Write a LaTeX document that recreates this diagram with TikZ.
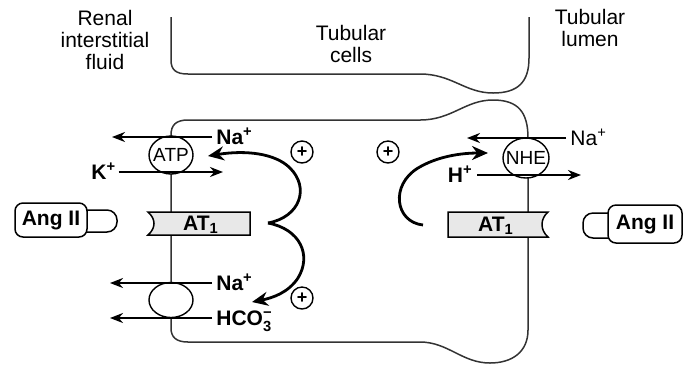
\documentclass[tikz,border=0pt]{standalone}
\usepackage{amsmath}
\usepackage{fontspec}
\setmainfont{Liberation Sans}
\usetikzlibrary{arrows.meta,positioning,shapes.geometric}

\begin{document}
\begin{tikzpicture}[x=0.5pt,y=-0.5pt,>={Stealth[length=6.5pt,width=5pt]},
 lbl/.style={align=center,font=\fontsize{10.5}{11}\selectfont},
 ion/.style={font=\fontsize{10.5}{11}\selectfont\bfseries,inner sep=2pt,text height=7.5pt,text depth=0pt},
 pump/.style={draw,ellipse,fill=white,line width=0.7pt,inner sep=0pt,minimum width=22pt,minimum height=19pt,font=\fontsize{9.5}{10}\selectfont},
 flux/.style={->,line width=1.2pt},
 effect/.style={-{Stealth[length=8pt,width=7pt]},line width=1.4pt},
 plus/.style={draw,circle,line width=0.7pt,inner sep=0pt,minimum size=11pt,font=\fontsize{9}{9}\selectfont\bfseries},
 wall/.style={line width=0.75pt,draw=black!80},
 recep/.style={draw,line width=0.75pt,fill=gray!18},
 ligand/.style={draw,line width=0.75pt,rounded corners=4pt,font=\fontsize{10.5}{11}\selectfont\bfseries}]
\useasboundingbox (0,0) rectangle (684,366);
\node[lbl] (fluid) at (105,40) {Renal\\interstitial\\fluid};
\node[lbl] (cells) at (351,44) {Tubular\\cells};
\node[lbl] (lumen) at (590,28) {Tubular\\lumen};
\draw[wall] (171,17) -- (171,60) .. controls (171,70) and (176,74) .. (188,74) -- (420,74)
 .. controls (452,74) and (465,93) .. (493,93) .. controls (518,93) and (529,82) .. (529,58) -- (529,17);
\draw[wall] (171,135) .. controls (171,125) and (176,120) .. (188,120) -- (420,120)
 .. controls (452,120) and (465,100) .. (493,100) .. controls (518,100) and (528,112) .. (528,138)
 -- (528,330) .. controls (528,352) and (512,363) .. (490,363) .. controls (462,363) and (448,342) .. (420,342)
 -- (188,342) .. controls (176,342) and (171,337) .. (171,328) -- cycle;
\node[pump] (atp) at (171,155) {\makebox[0pt]{ATP}};
\node[pump,minimum height=17.5pt] (nbc) at (171,300) {};
\node[pump,minimum width=23pt,minimum height=20pt] (nhe) at (526,158) {\makebox[0pt]{NHE}};
\node[ion,anchor=west] (naA) at (212,137) {Na\textsuperscript{+}};
\coordinate (naAend) at (112,137);
\draw[flux] (naA.west) -- (naAend);
\node[ion,anchor=west,inner sep=1pt] (kA) at (89,172) {K\textsuperscript{+}};
\coordinate (kAend) at (223,172);
\draw[flux] (kA.east) -- (kAend);
\node[ion,anchor=west] (naB) at (212,283) {Na\textsuperscript{+}};
\coordinate (naBend) at (110,283);
\draw[flux] (naB.west) -- (naBend);
\node[ion,anchor=west] (hco) at (212,318) {HCO$_{\text{\bfseries 3}}^{\text{\bfseries −}}$};
\coordinate (hcoend) at (110,318);
\draw[flux] (hco.west) -- (hcoend);
\node[ion,anchor=west,font=\fontsize{10.5}{11}\selectfont] (naR) at (566,138) {Na\textsuperscript{+}};
\coordinate (naRend) at (467,138);
\draw[flux] (naR.west) -- (naRend);
\node[ion,anchor=east] (hR) at (477,175) {H\textsuperscript{+}};
\coordinate (hRend) at (581,175);
\draw[flux] (hR.east) -- (hRend);
\draw[recep] (250,212) -- (148,212) .. controls (156,219) and (156,228) .. (148,235) -- (250,235) -- cycle;
\node[ion] (atL) at (201,223) {AT\textsubscript{1}};
\draw[recep] (448,212) -- (548,212) .. controls (540,219) and (540,230) .. (548,237) -- (448,237) -- cycle;
\node[ion] (atR) at (496,224) {AT\textsubscript{1}};
\node[ligand,minimum width=36pt,minimum height=17pt] (angL) at (51,220) {Ang II};
\draw[line width=0.75pt] (87,210) [rounded corners=5pt] -- (117,210) -- (117,232) [sharp corners] -- (87,232);
\node[ligand,minimum width=37pt,minimum height=19pt] (angR) at (645,224) {Ang II};
\draw[line width=0.75pt] (608,213) [rounded corners=5pt] -- (583,213) -- (583,238) [sharp corners] -- (608,238);
\coordinate (cusp) at (268,223);
\coordinate (tipA) at (208,156);
\coordinate (tipB) at (252,302);
\coordinate (tailR) at (423,225);
\coordinate (tipR) at (488,153);
\draw[effect] (cusp) .. controls (300,217) and (310,188) .. (290,168) .. controls (275,153) and (245,150) .. (tipA);
\draw[effect] (cusp) .. controls (300,229) and (312,255) .. (298,278) .. controls (288,293) and (272,298) .. (tipB);
\draw[effect] (tailR) .. controls (395,222) and (390,185) .. (418,168) .. controls (438,156) and (462,153) .. (tipR);
\node[plus] (plusA) at (302,152) {+};
\node[plus] (plusB) at (388,152) {+};
\node[plus] (plusC) at (302,298) {+};
\end{tikzpicture}
\end{document}
